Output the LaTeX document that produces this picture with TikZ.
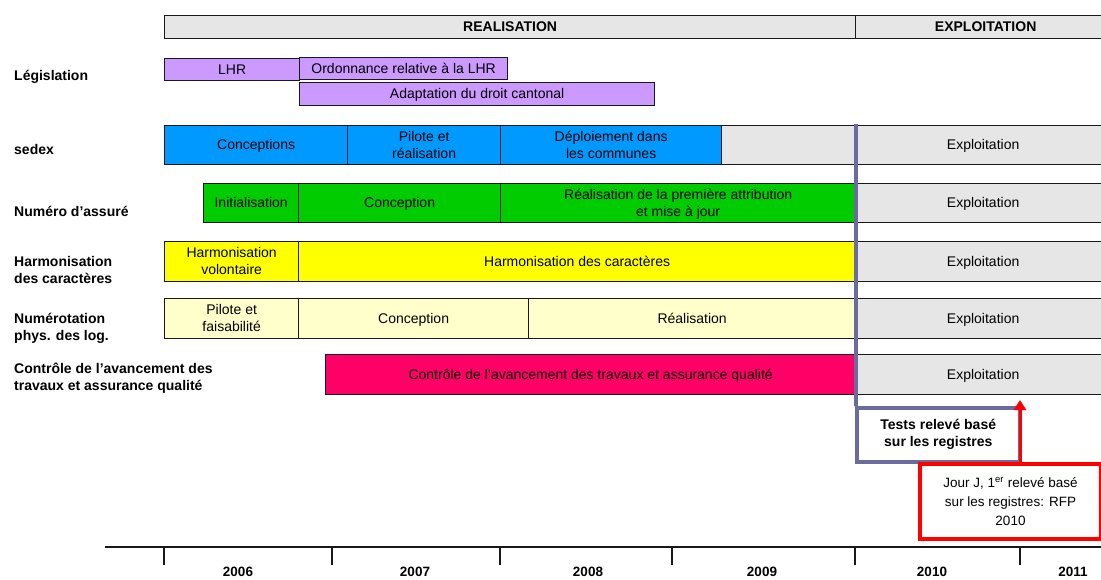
\documentclass[tikz,border=0pt]{standalone}
\usepackage{fontspec}
\setmainfont{Liberation Sans}
\usetikzlibrary{arrows.meta}
\definecolor{lila}{HTML}{CC99FF}
\definecolor{bleu}{HTML}{0099FF}
\definecolor{vert}{HTML}{00CC00}
\definecolor{jaune}{HTML}{FFFF00}
\definecolor{jaunep}{HTML}{FFFFCC}
\definecolor{rose}{HTML}{FF0066}
\definecolor{gris}{HTML}{E6E6E6}
\definecolor{violet}{HTML}{6B6B9E}
\definecolor{rouge}{HTML}{FF0000}
\newcommand\gbar[7]{\node[bar,fill=#6,minimum width={(#4-#2)*1pt},minimum height={(#5-#3)*1pt}] (#1) at (#2,#3) {#7};}
\begin{document}
\begin{tikzpicture}[x=1pt,y=-1pt,
  bar/.style={draw=black!90, line width=1.3pt, inner sep=0pt, anchor=north west, align=center,
    font=\fontsize{14}{17}\selectfont, text depth=0.5pt},
  hdr/.style={bar, fill=gris, font=\fontsize{14}{17}\selectfont\bfseries},
  lbl/.style={anchor=west, align=left, inner sep=0pt, font=\fontsize{14}{17}\selectfont\bfseries},
  yr/.style={inner sep=0pt, font=\fontsize{13.5}{15}\selectfont\bfseries},
  tick/.style={line width=1.2pt, black!90}]
\clip (0,0) rectangle (1101,579);
\fill[white] (0,0) rectangle (1101,579);
% header
\node[hdr,minimum width=691pt,minimum height=23pt] (real) at (164,15) {REALISATION};
\node[hdr,minimum width=260pt,minimum height=23pt] (expl) at (855,15) {EXPLOITATION};
% labels
\node[lbl] (l1) at (14,77) {Législation};
\node[lbl] (l2) at (14,149) {sedex};
\node[lbl] (l3) at (14,211) {Numéro d\symbol{39}assuré};
\node[lbl] (l4) at (14,270) {Harmonisation\\des caractères};
\node[lbl] (l5) at (14,328) {Numérotation\\phys. des log.};
\node[lbl] (l6) at (14,378) {Contrôle de l’avancement des\\travaux et assurance qualité};
% legislation
\gbar{lhr}{164}{58}{299}{80}{lila}{LHR}
\gbar{ord}{299}{57}{507}{79}{lila}{Ordonnance relative à la LHR}
\gbar{ada}{299}{82}{654}{105}{lila}{Adaptation du droit cantonal}
% sedex
\gbar{s1}{164}{125}{347}{164}{bleu}{Conceptions}
\gbar{s2}{347}{125}{500}{164}{bleu}{Pilote et\\réalisation}
\gbar{s3}{500}{125}{721}{164}{bleu}{Déploiement dans\\les communes}
\gbar{s4}{721}{125}{855}{164}{gris}{}
\gbar{s5}{855}{125}{1110}{164}{gris}{Exploitation}
% numero
\gbar{n1}{203}{183}{298}{222}{vert}{Initialisation}
\gbar{n2}{298}{183}{500}{222}{vert}{Conception}
\gbar{n3}{500}{183}{855}{222}{vert}{Réalisation de la première attribution\\et mise à jour}
\gbar{n4}{855}{183}{1110}{222}{gris}{Exploitation}
% harmonisation
\gbar{h1}{164}{241}{298}{281}{jaune}{Harmonisation\\volontaire}
\gbar{h2}{298}{241}{855}{281}{jaune}{Harmonisation des caractères}
\gbar{h3}{855}{241}{1110}{281}{gris}{Exploitation}
% numerotation
\gbar{p1}{164}{298}{298}{338}{jaunep}{Pilote et\\faisabilité}
\gbar{p2}{298}{298}{528}{338}{jaunep}{Conception}
\gbar{p3}{528}{298}{855}{338}{jaunep}{Réalisation}
\gbar{p4}{855}{298}{1110}{338}{gris}{Exploitation}
% controle
\gbar{c1}{325}{354}{855}{394}{rose}{Contrôle de l\symbol{39}avancement des travaux et assurance qualité}
\gbar{c2}{855}{354}{1110}{394}{gris}{Exploitation}
% tests box
\node[draw=violet, line width=3.5pt, fill=white, anchor=north west, minimum width=163pt, minimum height=54pt,
  inner sep=0pt, align=center, font=\fontsize{14}{17}\selectfont\bfseries] (tests) at (855,406) {Tests relevé basé\\sur les registres};
\coordinate (ptop) at (856,124);
\draw[violet, line width=3.5pt] (ptop) -- (ptop |- tests.north west);
% jour J box
\node[draw=rouge, line width=4pt, fill=white, anchor=north west, minimum width=181pt, minimum height=75pt,
  inner sep=0pt, align=center, font=\fontsize{13.5}{19}\selectfont] (jour) at (918,462) {Jour J, 1\textsuperscript{er} relevé basé\\sur les registres: RFP\\2010};
\coordinate (atip) at (1020,400);
\draw[rouge, line width=3pt, -{Triangle[length=10pt,width=12pt]}] (atip |- jour.north) -- (atip);
% timeline
\coordinate (t0) at (105,547);
\coordinate (t1) at (1110,547);
\draw[tick] (t0) -- (t1);
\foreach \x in {164,332,500,672,855,1020} {\draw[tick] (\x,547) -- (\x,565);}
\node[yr] (y6) at (238,572) {2006};
\node[yr] (y7) at (415,572) {2007};
\node[yr] (y8) at (588,572) {2008};
\node[yr] (y9) at (762,572) {2009};
\node[yr] (y10) at (932,572) {2010};
\node[yr] (y11) at (1073,572) {2011};
\end{tikzpicture}
\end{document}
